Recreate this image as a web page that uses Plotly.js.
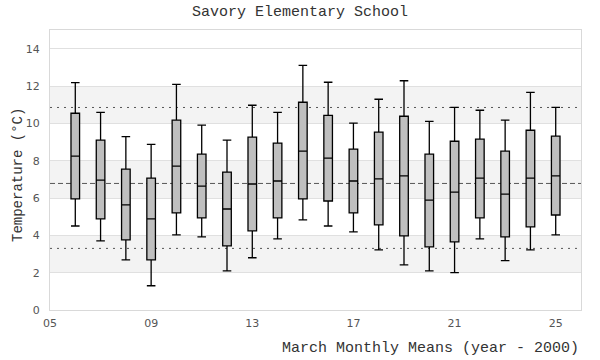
<!DOCTYPE html>
<html>
<head>
<meta charset="utf-8">
<script src="https://cdn.plot.ly/plotly-3.0.1.min.js"></script>
<style>html,body{margin:0;padding:0;background:#fff;}#chart{width:600px;height:360px;}</style>
</head>
<body>
<div id="chart"></div>
<script>
// Years (year - 2000)
const years = [6,7,8,9,10,11,12,13,14,15,16,17,18,19,20,21,22,23,24,25];
const whiskerLow = [4.50,3.70,2.69,1.30,4.02,3.92,2.10,2.80,3.81,4.83,4.50,4.18,3.22,2.42,2.10,2.00,3.81,2.64,3.22,4.02];
const q1Values   = [5.95,4.88,3.76,2.69,5.20,4.93,3.44,4.24,4.93,5.95,5.84,5.20,4.56,3.97,3.38,3.65,4.93,3.92,4.45,5.09];
const medians    = [8.24,6.96,5.63,4.88,7.71,6.64,5.41,6.75,6.91,8.51,8.14,6.91,7.02,7.18,5.89,6.32,7.07,6.21,7.07,7.18];
const q3Values   = [10.54,9.10,7.55,7.07,10.17,8.35,7.39,9.26,8.94,11.13,10.43,8.62,9.53,10.38,8.35,9.04,9.15,8.51,9.63,9.31];
const whiskerHigh= [12.18,10.59,9.29,8.87,12.09,9.90,9.10,10.97,10.59,13.10,12.20,10.01,11.29,12.28,10.11,10.86,10.70,10.17,11.66,10.86];
const tickValues = [5,9,13,17,21,25];
const tickLabels = ["05","09","13","17","21","25"];
const overallMean = 6.78;
const upperRef = 10.85;
const lowerRef = 3.30;
const bandRanges = [[2,4],[6,8],[10,12]];

const monoFont = "Liberation Mono, DejaVu Sans Mono, monospace";

const trace = {
  type: 'box',
  x: years,
  lowerfence: whiskerLow,
  q1: q1Values,
  median: medians,
  q3: q3Values,
  upperfence: whiskerHigh,
  width: 0.34,
  whiskerwidth: 1,
  fillcolor: '#bfbfbf',
  line: {color: '#000000', width: 1.3},
  boxpoints: false,
  hoverinfo: 'skip',
  showlegend: false
};

const shapes = [];
bandRanges.forEach(([a,b]) => shapes.push({
  type: 'rect', xref: 'paper', x0: 0, x1: 1, yref: 'y', y0: a, y1: b,
  fillcolor: '#f3f3f3', line: {width: 0}, layer: 'below'
}));
[[upperRef,'2px,5px'],[overallMean,'5px,3px'],[lowerRef,'2px,5px']].forEach(([v,d]) => shapes.push({
  type: 'line', xref: 'paper', x0: 0, x1: 1, yref: 'y', y0: v, y1: v,
  line: {color: '#555555', width: 1, dash: d}, layer: 'between'
}));

const layout = {
  width: 600, height: 360,
  margin: {l: 50, r: 19, t: 30, b: 50},
  paper_bgcolor: '#ffffff',
  plot_bgcolor: '#ffffff',
  title: {text: 'Savory Elementary School', font: {family: monoFont, size: 15, color: '#333333'}, x: 0.5, xanchor: 'center', y: 0.985, yanchor: 'top'},
  xaxis: {
    range: [5, 26],
    tickmode: 'array', tickvals: tickValues, ticktext: tickLabels,
    showgrid: false, zeroline: false,
    showline: true, linecolor: '#d9d9d9', linewidth: 1, mirror: true,
    ticks: 'outside', ticklen: 3, tickcolor: 'rgba(0,0,0,0)',
    tickfont: {family: 'DejaVu Sans, sans-serif', size: 11, color: '#555555'}
  },
  yaxis: {
    range: [0, 15],
    tickvals: [0,2,4,6,8,10,12,14],
    showgrid: true, gridcolor: '#e0e0e0', gridwidth: 1, zeroline: false,
    showline: true, linecolor: '#d9d9d9', linewidth: 1, mirror: true,
    ticks: 'outside', ticklen: 7, tickcolor: 'rgba(0,0,0,0)',
    tickfont: {family: 'DejaVu Sans, sans-serif', size: 11, color: '#555555'}
  },
  shapes: shapes,
  annotations: [{
    text: 'March Monthly Means (year - 2000)',
    xref: 'paper', yref: 'paper', x: 1, y: 0, xanchor: 'right', yanchor: 'top',
    yshift: -28, showarrow: false,
    font: {family: monoFont, size: 15, color: '#333333'}
  }, {
    text: 'Temperature (°C)', textangle: -90,
    xref: 'paper', yref: 'paper', x: 0, y: 0.5, xanchor: 'center', yanchor: 'middle',
    xshift: -32, yshift: -5, showarrow: false,
    font: {family: monoFont, size: 14, color: '#333333'}
  }]
};

Plotly.newPlot('chart', [trace], layout, {displayModeBar: false, staticPlot: true});
</script>
</body>
</html>
